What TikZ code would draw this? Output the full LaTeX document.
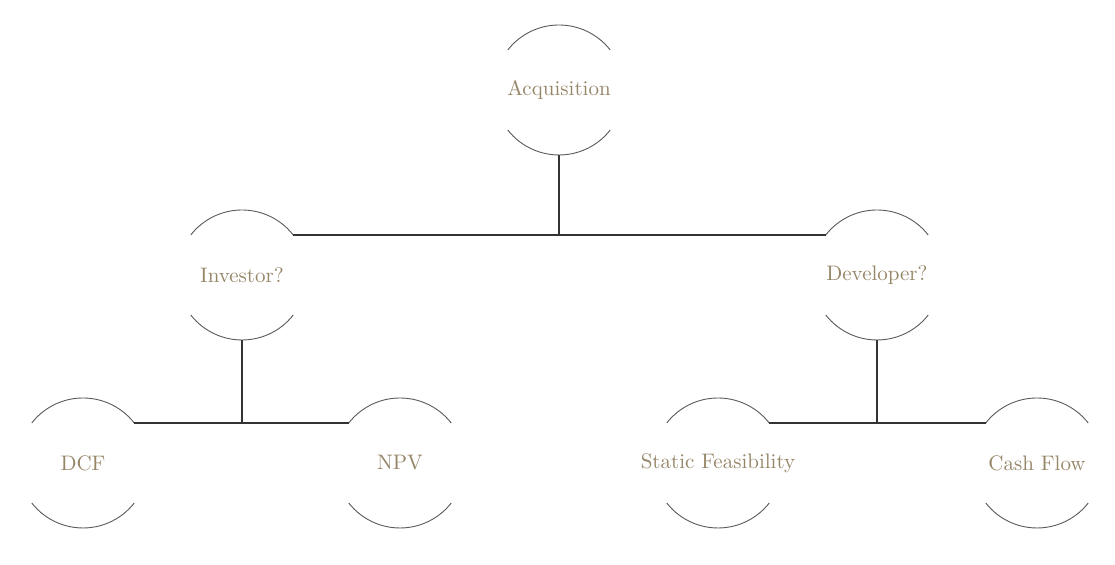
\documentclass[tikz,border=0pt]{standalone}
\definecolor{stagetan}{RGB}{150,134,104}
\definecolor{rimgray}{RGB}{90,90,90}
\begin{document}
\begin{tikzpicture}[x=0.5pt,y=0.5pt,
    stage/.style={circle,minimum size=65pt,inner sep=0pt,outer sep=0pt},
    stagetext/.style={text=stagetan,font=\fontsize{10.5}{12}\selectfont},
    rim/.style={draw=rimgray,line width=0.45pt},
    link/.style={draw=black!80,line width=0.7pt}]
  \useasboundingbox (0,0) rectangle (1115,565);
  \draw
    (559,475) node[stage,label={[stagetext]center:Acquisition}] (acq){}
    (242,290) node[stage,label={[stagetext]center:Investor?}] (inv){}
    (877,290) node[stage,label={[stagetext]center:Developer?}] (dev){}
    (83,102) node[stage,label={[stagetext]center:DCF}] (dcf){}
    (400,102) node[stage,label={[stagetext]center:NPV}] (npv){}
    (718,102) node[stage,label={[stagetext]center:Static Feasibility}] (sf){}
    (1037,102) node[stage,label={[stagetext]center:Cash Flow}] (cf){};
  % open circles
  \foreach \n in {acq,inv,dev,dcf,npv,sf,cf} {
    \draw[rim] (\n.38) arc[start angle=38,end angle=142,radius=32.5pt];
    \draw[rim] (\n.218) arc[start angle=218,end angle=322,radius=32.5pt];
  }
  \begin{scope}[link]
    \draw (acq.south) -- (acq.south |- inv.38);
    \draw (inv.38) -- (dev.142);
    \draw (inv.south) -- (inv.south |- dcf.38);
    \draw (dcf.38) -- (npv.142);
    \draw (dev.south) -- (dev.south |- sf.38);
    \draw (sf.38) -- (cf.142);
  \end{scope}
\end{tikzpicture}
\end{document}
